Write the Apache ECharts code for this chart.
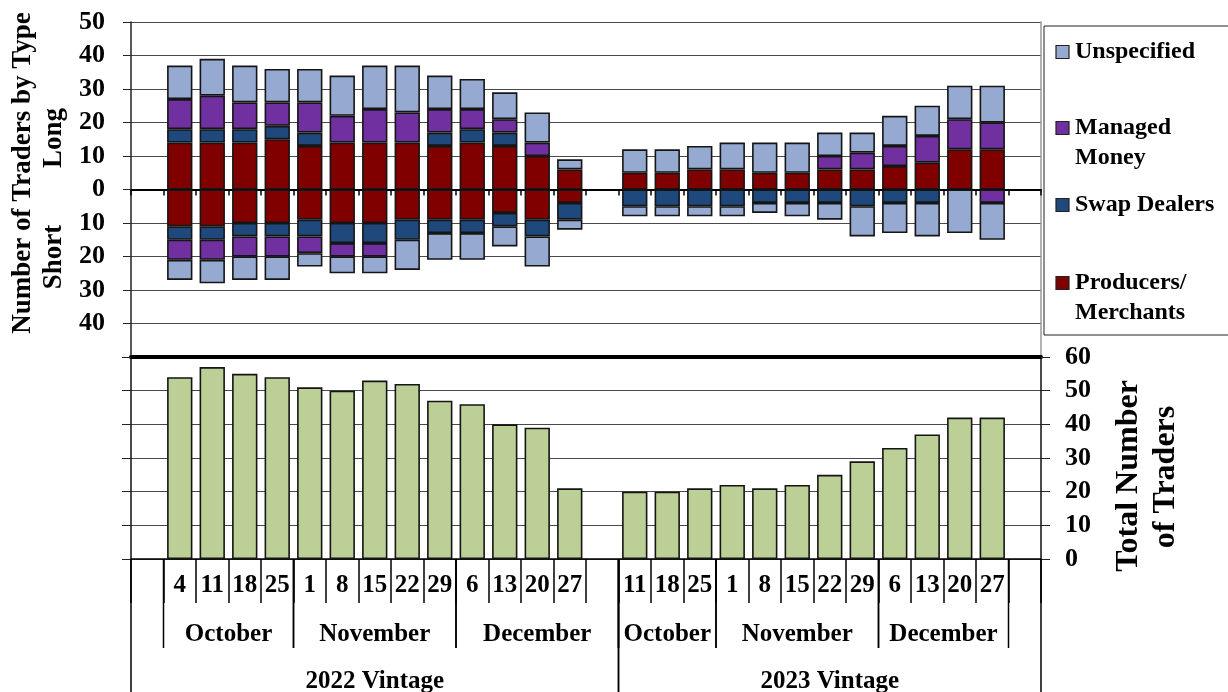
<!DOCTYPE html>
<html>
<head>
<meta charset="utf-8">
<script src="https://cdn.jsdelivr.net/npm/echarts@6/dist/echarts.min.js"></script>
<style>html,body{margin:0;padding:0;background:#fff}#main{width:1228px;height:692px}</style>
</head>
<body>
<div id="main"></div>
<script>
// ---- data ----
const days2022 = ['4','11','18','25','1','8','15','22','29','6','13','20','27'];
const days2023 = ['11','18','25','1','8','15','22','29','6','13','20','27'];
const categories = ['', ...days2022, '', ...days2023, ''];

const monthGroups = [
  {name:'October',  start:1,  end:5},
  {name:'November', start:5,  end:10},
  {name:'December', start:10, end:15},
  {name:'October',  start:15, end:18},
  {name:'November', start:18, end:23},
  {name:'December', start:23, end:27}
];
const vintageGroups = [
  {name:'2022 Vintage', start:0,  end:15},
  {name:'2023 Vintage', start:15, end:28}
];

// Long positions (2022 vintage, 2023 vintage)
const prodLong2022 = [14,14,14,15,13,14,14,14,13,14,13,10,6];
const prodLong2023 = [5,5,6,6,5,5,6,6,7,8,12,12];
const swapLong2022 = [4,4,4,4,4,0,0,0,4,4,4,0,0];
const swapLong2023 = [0,0,0,0,0,0,0,0,0,0,0,0];
const mmLong2022   = [9,10,8,7,9,8,10,9,7,6,4,4,0];
const mmLong2023   = [0,0,0,0,0,0,4,5,6,8,9,8];
const unspLong2022 = [10,11,11,10,10,12,13,14,10,9,8,9,3];
const unspLong2023 = [7,7,7,8,9,9,7,6,9,9,10,11];

// Short positions (shown below zero)
const prodShort2022 = [11,11,10,10,9,10,10,9,9,9,7,9,4];
const prodShort2023 = [0,0,0,0,0,0,0,0,0,0,0,0];
const swapShort2022 = [4,4,4,4,5,6,6,6,4,4,4,5,5];
const swapShort2023 = [5,5,5,5,4,4,4,5,4,4,0,0];
const mmShort2022   = [6,6,6,6,5,4,4,0,0,0,0,0,0];
const mmShort2023   = [0,0,0,0,0,0,0,0,0,0,0,4];
const unspShort2022 = [6,7,7,7,4,5,5,9,8,8,6,9,3];
const unspShort2023 = [3,3,3,3,3,4,5,9,9,10,13,11];

// Total number of traders
const total2022 = [54,57,55,54,51,50,53,52,47,46,40,39,21];
const total2023 = [20,20,21,22,21,22,25,29,33,37,42,42];

const upperTicks = [-50,-40,-30,-20,-10,0,10,20,30,40,50];
const lowerTicks = [0,10,20,30,40,50,60];

// ---- styles ----
const FONT = 'Liberation Serif';
const COLORS = {
  'Unspecified':'#95A9D1',
  'Managed Money':'#7030A0',
  'Swap Dealers':'#1F497D',
  'Producers/Merchants':'#800000',
  'Total':'#BBCF96'
};
const txt = s => ({fontFamily:FONT, fontWeight:'bold', fontSize:s, color:'#000'});

const spread = (a, b, sign) => [null, ...a.map(v => v ? v*sign : null), null, ...b.map(v => v ? v*sign : null), null];

function stackSeries(name, a, b, sign) {
  return {
    name, type:'bar', xAxisIndex:0, yAxisIndex:0, stack:'traders', stackStrategy:'samesign',
    barWidth:'78%', data: spread(a, b, sign),
    itemStyle:{color:COLORS[name], borderColor:'#151515', borderWidth:1.6}
  };
}

const series = [
  stackSeries('Producers/Merchants', prodLong2022, prodLong2023, 1),
  stackSeries('Swap Dealers', swapLong2022, swapLong2023, 1),
  stackSeries('Managed Money', mmLong2022, mmLong2023, 1),
  stackSeries('Unspecified', unspLong2022, unspLong2023, 1),
  stackSeries('Producers/Merchants', prodShort2022, prodShort2023, -1),
  stackSeries('Swap Dealers', swapShort2022, swapShort2023, -1),
  stackSeries('Managed Money', mmShort2022, mmShort2023, -1),
  stackSeries('Unspecified', unspShort2022, unspShort2023, -1),
  {
    name:'Total', type:'bar', xAxisIndex:1, yAxisIndex:2, barWidth:'78%',
    data: spread(total2022, total2023, 1),
    itemStyle:{color:COLORS.Total, borderColor:'#151515', borderWidth:1.6}
  }
];

const gridLine = {show:true, lineStyle:{color:'#4a4a4a', width:1}};

const option = {
  animation:false,
  backgroundColor:'#fff',
  grid:[
    {left:131, top:22, width:910, height:335, outerBoundsMode:'none'},
    {left:131, top:357, width:910, height:202, outerBoundsMode:'none'}
  ],
  xAxis:[
    {gridIndex:0, type:'category', data:categories,
     axisLine:{onZero:true, lineStyle:{color:'#000', width:2}},
     axisTick:{show:true, interval:0, length:6, lineStyle:{color:'#000', width:1.5}},
     axisLabel:{show:false}, splitLine:{show:false}},
    {gridIndex:1, type:'category', position:'bottom', data:categories,
     axisLine:{show:true, onZero:false, lineStyle:{color:'#000', width:1.5}},
     axisTick:{show:true, interval:0, length:44, lineStyle:{color:'#000', width:1.5}},
     axisLabel:Object.assign({interval:0, margin:14}, txt(25)), splitLine:{show:false}},
    {gridIndex:1, type:'category', position:'top', data:categories,
     axisLine:{show:true, onZero:false, lineStyle:{color:'#000', width:4}},
     axisTick:{show:false}, axisLabel:{show:false}, splitLine:{show:false}}
  ],
  yAxis:[
    {gridIndex:0, type:'value', position:'left', min:upperTicks[0], max:upperTicks[upperTicks.length-1], interval:10,
     axisLine:{show:true, lineStyle:{color:'#222', width:1.5}},
     axisTick:{show:true, length:8, lineStyle:{color:'#222', width:1}},
     axisLabel:Object.assign({margin:26, formatter:v => v === upperTicks[0] ? '' : String(Math.abs(v))}, txt(26)),
     splitLine:gridLine},
    {gridIndex:0, type:'value', position:'right', min:-50, max:50, interval:10,
     axisLine:{show:true, lineStyle:{color:'#999', width:1.5}},
     axisTick:{show:false}, axisLabel:{show:false}, splitLine:{show:false}},
    {gridIndex:1, type:'value', position:'left', min:lowerTicks[0], max:lowerTicks[lowerTicks.length-1], interval:10,
     axisLine:{show:true, lineStyle:{color:'#111', width:1.5}},
     axisTick:{show:true, length:9, lineStyle:{color:'#222', width:1}},
     axisLabel:{show:false}, splitLine:gridLine},
    {gridIndex:1, type:'value', position:'right', min:0, max:60, interval:10,
     axisLine:{show:true, lineStyle:{color:'#111', width:1.5}},
     axisTick:{show:true, length:9, lineStyle:{color:'#222', width:1}},
     axisLabel:Object.assign({margin:24}, txt(26)), splitLine:{show:false}}
  ],
  series
};

const chart = echarts.init(document.getElementById('main'));
chart.setOption(option);

// ---- multi-level category labels, titles and legend ----
const c0 = chart.convertToPixel({xAxisIndex:1}, 0);
const c1 = chart.convertToPixel({xAxisIndex:1}, 1);
const band = c1 - c0;
const bx = b => c0 - band/2 + b*band;
const y0 = chart.convertToPixel({yAxisIndex:2}, 0);

const g = [];
const line = (x, ya, yb) => g.push({type:'line', silent:true, shape:{x1:x, y1:ya, x2:x, y2:yb}, style:{stroke:'#000', lineWidth:1.5}, z:10});
const text = (t, x, y, size, rot, extra) => g.push(Object.assign({type:'text', silent:true, x, y, rotation:rot||0,
  style:Object.assign({text:t, fill:'#000', fontFamily:FONT, fontWeight:'bold', fontSize:size, align:'center', verticalAlign:'middle'}, extra||{}), z:10}));

monthGroups.forEach(m => {
  line(bx(m.start), y0, y0 + 89);
  line(bx(m.end), y0, y0 + 89);
  text(m.name, (bx(m.start) + bx(m.end))/2, y0 + 76, 25);
});
vintageGroups.forEach(v => {
  line(bx(v.start), y0, y0 + 140);
  line(bx(v.end), y0, y0 + 140);
  text(v.name, (bx(v.start) + bx(v.end))/2, y0 + 123, 25);
});

// axis titles
text('Number of Traders by Type', 23, 173, 27, Math.PI/2);
text('Long', 54, 138, 27, Math.PI/2);
text('Short', 54, 257, 27, Math.PI/2);
text('Total Number', 1129, 476, 32, Math.PI/2);
text('of Traders', 1166, 477, 32, Math.PI/2);

// legend box
g.push({type:'rect', silent:true, shape:{x:1044, y:26, width:190, height:309}, style:{fill:'#fff', stroke:'#222', lineWidth:1}, z:9});
const legendItems = [
  {name:'Unspecified', label:'Unspecified', y:52},
  {name:'Managed Money', label:'Managed\nMoney', y:128},
  {name:'Swap Dealers', label:'Swap Dealers', y:205},
  {name:'Producers/Merchants', label:'Producers/\nMerchants', y:283}
];
legendItems.forEach(it => {
  g.push({type:'rect', silent:true, shape:{x:1056, y:it.y - 6.5, width:13, height:13}, style:{fill:COLORS[it.name], stroke:'#222', lineWidth:1.2}, z:10});
  text(it.label, 1075, it.y - 15, 24, 0, {align:'left', verticalAlign:'top', lineHeight:30});
});

chart.setOption({graphic:g});
</script>
</body>
</html>
